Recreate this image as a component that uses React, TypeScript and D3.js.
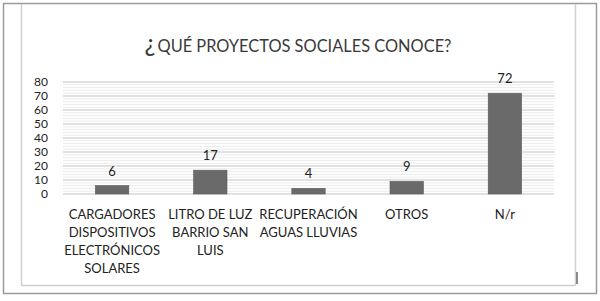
import React from "react";
import * as d3 from "d3";

const categories: string[][] = [
  ["CARGADORES", "DISPOSITIVOS", "ELECTRÓNICOS", "SOLARES"],
  ["LITRO DE LUZ", "BARRIO SAN", "LUIS"],
  ["RECUPERACIÓN", "AGUAS LLUVIAS"],
  ["OTROS"],
  ["N/r"],
];
const values: number[] = [6, 17, 4, 9, 72];
const yTicks: number[] = [0, 10, 20, 30, 40, 50, 60, 70, 80];
const minorTicks: number[] = d3.range(0, 81, 2);

const W = 600;
const H = 301;
const FONT = "Lato, 'Open Sans', sans-serif";

export default function App() {
  const x = d3
    .scaleBand<number>()
    .domain(values.map((_, i) => i))
    .range([63, 554])
    .paddingInner(0)
    .paddingOuter(0);
  const y = d3.scaleLinear().domain([0, 80]).range([194, 82]);
  const bw = x.bandwidth() * 0.34;

  return (
    <svg
      width={W}
      height={H}
      style={{ position: "absolute", left: 0, top: 0, background: "#fff" }}
      fontFamily={FONT}
    >
      <rect x={0} y={0} width={W} height={H} fill="#fff" />
      {/* outer frame */}
      <rect x={3.5} y={3.5} width={593} height={290} fill="none" stroke="#9a9a9a" strokeWidth={1.5} />
      {/* inner frame */}
      <line x1={21.5} y1={4} x2={21.5} y2={285.5} stroke="#cfcfcf" strokeWidth={1.5} />
      <line x1={575.5} y1={4} x2={575.5} y2={285.5} stroke="#cfcfcf" strokeWidth={1.5} />
      <line x1={21.5} y1={285.5} x2={575.5} y2={285.5} stroke="#cfcfcf" strokeWidth={1.5} />
      <line x1={577} y1={272} x2={577} y2={284} stroke="#444" strokeWidth={1.2} />

      {/* title */}
      <text x={298} y={52} textAnchor="middle" fill="#3a3a3a" fontSize={16.4}>
        <tspan fontSize={25}>¿</tspan>
        <tspan dx={2}>QUÉ PROYECTOS SOCIALES CONOCE?</tspan>
      </text>

      {/* minor gridlines */}
      {minorTicks.map((t) => (
        <line
          key={"m" + t}
          x1={63}
          x2={554}
          y1={y(t)}
          y2={y(t)}
          stroke="#e6e6e6"
          strokeWidth={0.8}
        />
      ))}
      {/* major gridlines */}
      {yTicks.map((t) => (
        <line
          key={"g" + t}
          x1={63}
          x2={554}
          y1={y(t)}
          y2={y(t)}
          stroke="#cdcdcd"
          strokeWidth={1}
        />
      ))}
      {/* y labels */}
      {yTicks.map((t) => (
        <text
          key={"t" + t}
          x={48}
          y={y(t)}
          dy="0.35em"
          textAnchor="end"
          fontSize={12}
          fill="#222"
        >
          {t}
        </text>
      ))}

      {/* bars */}
      {values.map((v, i) => {
        const cx = (x(i) as number) + x.bandwidth() / 2;
        return (
          <g key={"b" + i}>
            <rect
              x={cx - bw / 2}
              y={y(v)}
              width={bw}
              height={y(0) - y(v)}
              fill="#6a6a6a"
              stroke="#5a5a5a"
              strokeWidth={0.6}
            />
            <text x={cx} y={y(v) - 10} textAnchor="middle" fontSize={13} fill="#222">
              {v}
            </text>
          </g>
        );
      })}

      {/* category labels */}
      {categories.map((lines, i) => {
        const cx = (x(i) as number) + x.bandwidth() / 2;
        return (
          <text key={"c" + i} textAnchor="middle" fontSize={13} fill="#222">
            {lines.map((l, j) => (
              <tspan key={j} x={cx} y={219 + j * 18}>
                {l}
              </tspan>
            ))}
          </text>
        );
      })}
    </svg>
  );
}
